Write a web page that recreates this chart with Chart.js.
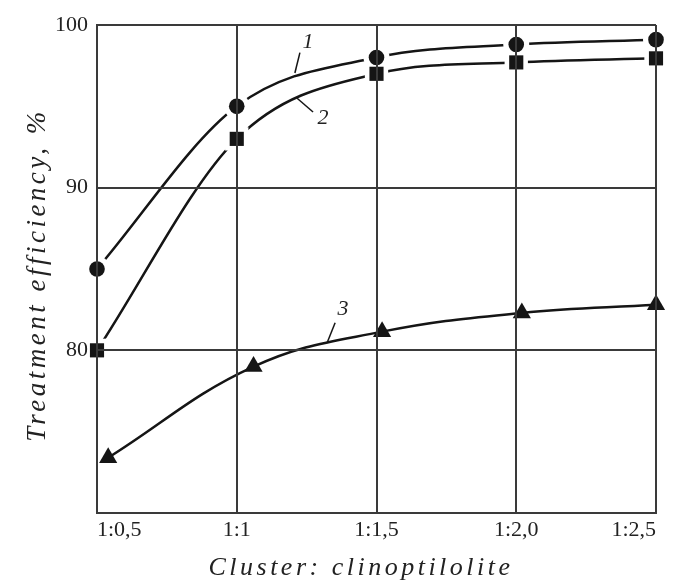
<!DOCTYPE html>
<html>
<head>
<meta charset="utf-8">
<script src="https://cdn.jsdelivr.net/npm/chart.js@4"></script>
<style>
  html, body { margin: 0; padding: 0; background: #fff; }
  #wrap { width: 675px; height: 586px; }
</style>
</head>
<body>
<div id="wrap"><canvas id="chart" width="675" height="586"></canvas></div>
<script>
// ratio cluster:clinoptilolite (1:x)
const xTickLabels = ['1:0,5', '1:1', '1:1,5', '1:2,0', '1:2,5'];
const xTickValues = [0.5, 1, 1.5, 2, 2.5];

const curve1X = [0.5, 1, 1.5, 2, 2.5];
const curve1Y = [85.0, 95.0, 98.0, 98.8, 99.1];

const curve2X = [0.5, 1, 1.5, 2, 2.5];
const curve2Y = [80.0, 93.0, 97.0, 97.7, 97.95];

const curve3X = [0.54, 1.06, 1.52, 2.02, 2.5];
const curve3Y = [73.4, 79.0, 81.15, 82.3, 82.8];

const xTitle = 'Cluster: clinoptilolite';
const yTitle = 'Treatment efficiency, %';

// curve numbers with their leader lines
const curveLabels = [
    { text: '1', at: [1.255, 98.95], from: [1.226, 98.3], to: [1.208, 97.05] },
    { text: '2', at: [1.309, 94.3], from: [1.273, 94.65], to: [1.216, 95.5] },
    { text: '3', at: [1.38, 82.5], from: [1.352, 81.7], to: [1.323, 80.45] },
];

const INK = '#151515';
const GRID = '#3a3a3a';
const TEXT = '#222';
const SERIF = '"Liberation Serif", "Times New Roman", serif';

const pts = (xs, ys) => xs.map((x, i) => ({ x, y: ys[i] }));

function lineSet(data, tension) {
    return {
        data, order: 3, borderColor: INK, borderWidth: 2.5, clip: false,
        pointRadius: 0, fill: false,
        ...(tension ? { tension } : { cubicInterpolationMode: 'monotone' }),
    };
}
function haloSet(data, style, r) {
    return {
        data, order: 2, showLine: false, clip: false, pointStyle: style, pointRadius: r,
        pointBackgroundColor: '#fff', pointBorderWidth: 0, pointBorderColor: '#fff',
    };
}
function markSet(data, style, r) {
    return {
        data, order: 1, showLine: false, clip: false, pointStyle: style, pointRadius: r,
        pointBackgroundColor: INK, pointBorderWidth: 0, pointBorderColor: INK,
    };
}

const s1 = pts(curve1X, curve1Y);
const s2 = pts(curve2X, curve2Y);
const s3 = pts(curve3X, curve3Y);

const textPlugin = {
    id: 'texts',
    afterDatasetsDraw(chart) {
        const { ctx, scales: { x, y } } = chart;
        ctx.save();
        ctx.strokeStyle = INK;
        ctx.lineWidth = 1.5;
        ctx.fillStyle = TEXT;
        ctx.font = 'italic 22px ' + SERIF;
        ctx.textAlign = 'center';
        ctx.textBaseline = 'middle';
        curveLabels.forEach((l) => {
            ctx.beginPath();
            ctx.moveTo(x.getPixelForValue(l.from[0]), y.getPixelForValue(l.from[1]));
            ctx.lineTo(x.getPixelForValue(l.to[0]), y.getPixelForValue(l.to[1]));
            ctx.stroke();
            ctx.fillText(l.text, x.getPixelForValue(l.at[0]), y.getPixelForValue(l.at[1]));
        });
        ctx.restore();
    },
    // axis titles: the original is letter-spaced, which Chart.js titles can't do
    afterDraw(chart) {
        const { ctx, chartArea: a } = chart;
        ctx.save();
        ctx.fillStyle = TEXT;
        ctx.textAlign = 'center';
        ctx.textBaseline = 'alphabetic';
        ctx.letterSpacing = '3.5px';
        ctx.font = 'italic 26px ' + SERIF;
        ctx.fillText(xTitle, a.left + 264, a.bottom + 62);
        ctx.font = 'italic 27px ' + SERIF;
        ctx.translate(a.left - 52, (a.top + a.bottom) / 2 + 6);
        ctx.rotate(-Math.PI / 2);
        ctx.fillText(yTitle, 0, 0);
        ctx.restore();
    },
};

new Chart(document.getElementById('chart'), {
    type: 'line',
    data: {
        datasets: [
            lineSet(s1), lineSet(s2), lineSet(s3, 0.4),
            haloSet(s1, 'circle', 13), haloSet(s2, 'rect', 16.5),
            markSet(s1, 'circle', 7.8), markSet(s2, 'rect', 10), markSet(s3, 'triangle', 10.5),
        ],
    },
    options: {
        responsive: false,
        animation: false,
        layout: { padding: { top: 25, right: 19, left: 0, bottom: 0 } },
        plugins: { legend: { display: false }, tooltip: { enabled: false } },
        scales: {
            x: {
                type: 'linear', min: 0.5, max: 2.5,
                afterBuildTicks: (s) => { s.ticks = xTickValues.map((v) => ({ value: v })); },
                afterFit: (s) => { s.height = 73; s.paddingRight = 0; s.paddingLeft = 0; },
                grid: { color: GRID, lineWidth: 2, drawTicks: false, z: 1 },
                border: { color: GRID, width: 2, z: 1 },
                ticks: {
                    padding: 4, color: TEXT, maxRotation: 0, align: 'inner', z: 1,
                    font: { family: SERIF, size: 22 },
                    callback: (v, i) => xTickLabels[i],
                },
            },
            y: {
                min: 70, max: 100,
                afterFit: (s) => { s.width = 97; },
                grid: { color: GRID, lineWidth: 2, drawTicks: false, z: 1 },
                border: { color: GRID, width: 2, z: 1 },
                ticks: {
                    stepSize: 10, padding: 9, color: TEXT, z: 1,
                    font: { family: SERIF, size: 22 },
                    callback: (v) => (v === 70 ? '' : v),
                },
            },
        },
    },
    plugins: [textPlugin],
});
</script>
</body>
</html>
